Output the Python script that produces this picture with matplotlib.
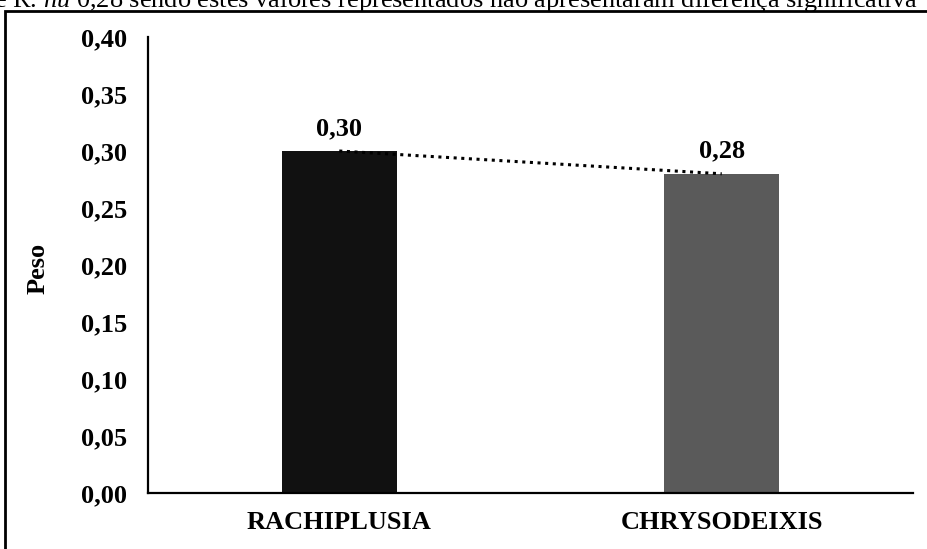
import numpy as np
import matplotlib
matplotlib.use("Agg")
import matplotlib.pyplot as plt
from matplotlib.patches import Rectangle

categories = ["RACHIPLUSIA", "CHRYSODEIXIS"]
values = [0.30, 0.28]
value_labels = ["0,30", "0,28"]
yticks = [0.00, 0.05, 0.10, 0.15, 0.20, 0.25, 0.30, 0.35, 0.40]
ytick_labels = ["0,00", "0,05", "0,10", "0,15", "0,20", "0,25", "0,30", "0,35", "0,40"]
bar_colors = ["#111111", "#5a5a5a"]
ylabel = "Peso"
caption = "e R. $\\mathit{nu}$ 0,28 sendo estes valores representados não apresentaram diferença significativa"

plt.rcParams['font.family'] = ['Liberation Serif', 'DejaVu Serif']
plt.rcParams['mathtext.fontset'] = 'custom'
plt.rcParams['mathtext.rm'] = 'Liberation Serif'
plt.rcParams['mathtext.it'] = 'Liberation Serif:italic'

fig = plt.figure(figsize=(9.28, 5.49), dpi=100)
ax = fig.add_axes([148/928, 1-493/549, (913-148)/928, (493-37)/549])

x = np.arange(len(categories))
ax.bar(x, values, width=0.30, color=bar_colors, zorder=2)

# linear trendline
coef = np.polyfit(x, values, 1)
ax.plot(x, np.polyval(coef, x), linestyle=(0, (1, 1.5)), color="black", linewidth=2.2, zorder=3)

for xi, v, lab in zip(x, values, value_labels):
    ax.annotate(lab, (xi, v), xytext=(0, 8), textcoords="offset points",
                ha="center", va="bottom", fontsize=19, fontweight="bold")

ax.set_xlim(-0.5, 1.5)
ax.set_ylim(0, 0.40)
ax.set_xticks(x)
ax.set_xticklabels(categories, fontsize=19, fontweight="bold")
ax.set_yticks(yticks)
ax.set_yticklabels(ytick_labels, fontsize=19, fontweight="bold")
ax.tick_params(axis="both", length=0)
ax.tick_params(axis="y", pad=15)
ax.tick_params(axis="x", pad=13)
for s in ["top", "right"]:
    ax.spines[s].set_visible(False)
for s in ["left", "bottom"]:
    ax.spines[s].set_linewidth(1.6)
    ax.spines[s].set_color("black")

fig.text(38/928, 1-268/549, ylabel, rotation=90, ha="center", va="center",
         fontsize=19, fontweight="bold")

# outer border of the chart area
fig.patches.append(Rectangle((5/928, -0.05), 1.0, 1-11/549+0.05, transform=fig.transFigure,
                             fill=False, edgecolor="black", linewidth=2.0))

# cut-off caption text above
fig.text(-6/928, 1-7/549, caption, ha="left", va="baseline", fontsize=19)

fig.savefig("out.png", dpi=100)
